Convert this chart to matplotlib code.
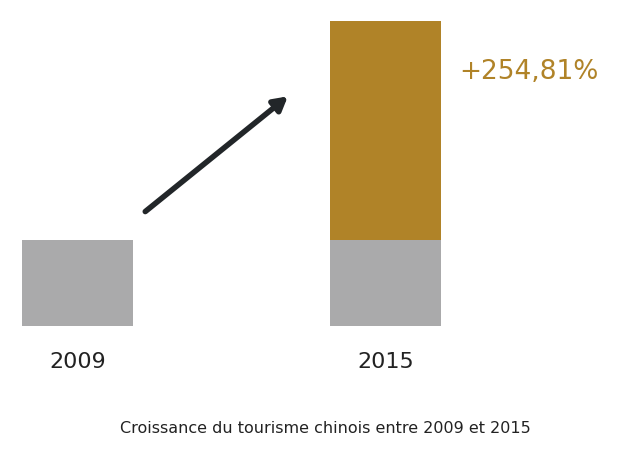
import matplotlib.pyplot as plt

years = ["2009", "2015"]
base = [1.0, 1.0]
growth = [0.0, 2.5481]
growth_label = "+254,81%"
caption = "Croissance du tourisme chinois entre 2009 et 2015"

GRAY = "#aaaaab"
GOLD = "#b08328"

fig = plt.figure(figsize=(6.41, 4.61), dpi=100)
ax = fig.add_axes([0, 0, 1, 1])
ax.set_xlim(-0.2516, 1.8295)
ax.set_ylim(-1.57, 3.79)
ax.axis("off")

x = list(range(len(years)))
ax.bar(x, base, width=0.36, color=GRAY)
ax.bar(x, growth, width=0.36, bottom=base, color=GOLD)

for xi, y in zip(x, years):
    ax.text(xi, -0.42, y, ha="center", va="center", fontsize=16, color="#222222")

ax.text(x[1] + 0.24, base[1] + growth[1] - 0.6, growth_label, ha="left", va="center",
        fontsize=19, color=GOLD)

ax.annotate("", xy=(0.69, 2.69), xytext=(0.213, 1.31),
            arrowprops=dict(arrowstyle="-|>,head_length=0.8,head_width=0.45",
                            color="#222629", lw=4))

fig.text(0.508, 1 - 428 / 461, caption, ha="center", va="center", fontsize=11.5, color="#222222")

fig.savefig("out.png", dpi=100)
